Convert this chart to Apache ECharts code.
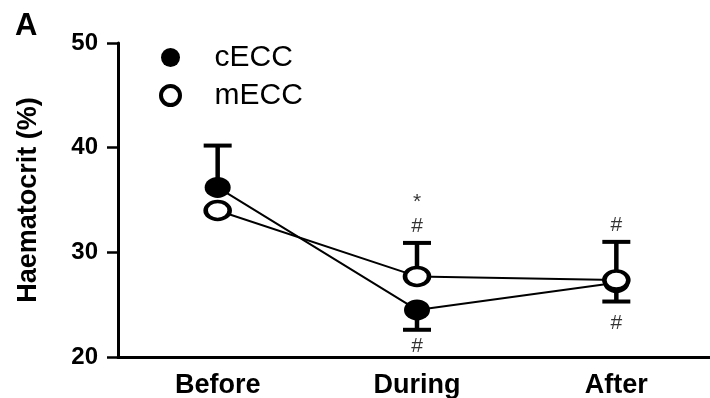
<!DOCTYPE html>
<html>
<head>
<meta charset="utf-8">
<script src="https://cdn.jsdelivr.net/npm/echarts@6/dist/echarts.min.js"></script>
<style>html,body{margin:0;padding:0;background:#fff}#c{width:710px;height:398px}</style>
</head>
<body>
<div id="c"></div>
<script>
// ---- data ----
const categories = ['Before', 'During', 'After'];
const cECC = [36.2, 24.5, 27.1];
const mECC = [34.0, 27.7, 27.35];
// error bars: [categoryIndex, mean, bar end]
const cECCErr = [[0, 36.2, 40.2], [1, 24.5, 22.6], [2, 27.1, 25.3]];
const mECCErr = [[1, 27.7, 30.9], [2, 27.35, 31.0]];
// significance marks: [categoryIndex, value, text]
const marks = [[1, 34.8, '*'], [1, 32.5, '#'], [1, 21.0, '#'], [2, 32.6, '#'], [2, 23.2, '#']];
const yTicks = [20, 30, 40, 50];

const FONT = '"Liberation Sans", Arial, sans-serif';
const chart = echarts.init(document.getElementById('c'), null, {renderer: 'canvas'});

function errRender(params, api) {
  const x = api.value(0);
  const p0 = api.coord([x, api.value(1)]);
  const p1 = api.coord([x, api.value(2)]);
  const cap = 14;
  const st = {stroke: '#000', lineWidth: 4.5};
  return {
    type: 'group',
    children: [
      {type: 'line', shape: {x1: p0[0], y1: p0[1], x2: p1[0], y2: p1[1]}, style: st},
      {type: 'line', shape: {x1: p1[0] - cap, y1: p1[1], x2: p1[0] + cap, y2: p1[1]}, style: {stroke: '#000', lineWidth: 4}}
    ]
  };
}

chart.setOption({
  animation: false,
  backgroundColor: '#fff',
  title: {
    text: 'A', left: 15, top: 11, padding: 0,
    textStyle: {fontFamily: FONT, fontSize: 31, fontWeight: 'bold', color: '#000'}
  },
  legend: {
    orient: 'vertical', left: 159, top: 42.5, itemGap: 8, padding: 0,
    itemWidth: 24, itemHeight: 19, symbolKeepAspect: false,
    textStyle: {fontFamily: FONT, fontSize: 30, color: '#000', lineHeight: 30, padding: [0, 0, 0, 27]},
    data: [
      {name: 'cECC', icon: 'circle', itemStyle: {color: '#000', borderWidth: 0}},
      {name: 'mECC', icon: 'circle', itemStyle: {color: '#fff', borderColor: '#000', borderWidth: 4}}
    ]
  },
  grid: {left: 118, width: 598, top: 43, bottom: 41, containLabel: false, outerBoundsMode: 'none'},
  xAxis: {
    type: 'category', data: categories, boundaryGap: true,
    axisLine: {lineStyle: {color: '#000', width: 3}},
    axisTick: {alignWithLabel: true, length: 7, lineStyle: {color: '#000', width: 2}},
    axisLabel: {fontFamily: FONT, fontSize: 27, fontWeight: 'bold', color: '#000', margin: 15},
    splitLine: {show: false}
  },
  yAxis: {
    type: 'value', min: 20, max: 50, interval: 10,
    name: 'Haematocrit (%)', nameLocation: 'middle', nameGap: 76, nameRotate: 90,
    nameTextStyle: {fontFamily: FONT, fontSize: 27, fontWeight: 'bold', color: '#000'},
    axisLine: {show: true, lineStyle: {color: '#000', width: 3}},
    axisTick: {show: true, length: 11, lineStyle: {color: '#000', width: 2.5}},
    axisLabel: {fontFamily: FONT, fontSize: 24, fontWeight: 'bold', color: '#000', margin: 20,
      customValues: yTicks},
    splitLine: {show: false}
  },
  series: [
    {
      type: 'custom', name: 'cECC err', renderItem: errRender, data: cECCErr, z: 1,
      encode: {x: 0, y: [1, 2]}, silent: true
    },
    {
      type: 'custom', name: 'mECC err', renderItem: errRender, data: mECCErr, z: 1,
      encode: {x: 0, y: [1, 2]}, silent: true
    },
    {
      type: 'line', name: 'cECC', data: cECC, z: 3,
      symbol: 'circle', symbolSize: [26, 21],
      lineStyle: {color: '#000', width: 2},
      itemStyle: {color: '#000', borderWidth: 0}
    },
    {
      type: 'line', name: 'mECC', data: mECC, z: 4,
      symbol: 'circle', symbolSize: [24, 18],
      lineStyle: {color: '#000', width: 2},
      itemStyle: {color: '#fff', borderColor: '#000', borderWidth: 4}
    },
    {
      type: 'scatter', name: 'marks', z: 5, symbolSize: 0, silent: true,
      data: marks.map(m => ({value: [m[0], m[1]], name: m[2]})),
      label: {show: true, position: 'inside', formatter: p => p.name,
        fontFamily: FONT, fontSize: 21, color: '#000'}
    }
  ]
});
</script>
</body>
</html>
